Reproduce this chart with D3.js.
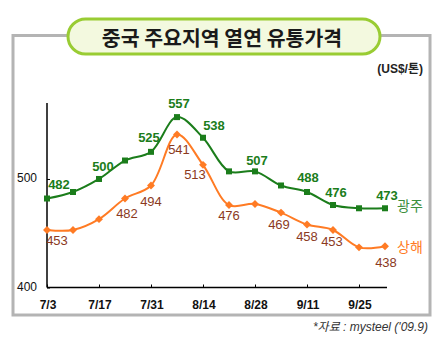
<!DOCTYPE html>
<html><head><meta charset="utf-8">
<script src="https://cdn.jsdelivr.net/npm/d3@7"></script>
<style>body{margin:0;background:#fff;}svg{display:block;}</style>
</head><body>
<svg id="c" width="447" height="339"></svg>
<script>
const title = "중국 주요지역 열연 유통가격";
const unit = "(US$/톤)";
const source = "*자료 : mysteel ('09.9)";
const dates = ["7/3","7/10","7/17","7/24","7/31","8/7","8/14","8/21","8/28","9/4","9/11","9/18","9/25","10/2"];
const tickLabels = ["7/3","7/17","7/31","8/14","8/28","9/11","9/25"];
const yTicks = [400, 500];
const guangzhou = [482, 488, 500, 517, 525, 557, 538, 507, 507, 494, 488, 476, 473, 473];
const shanghai  = [453, 453, 463, 482, 494, 541, 513, 476, 477, 469, 458, 453, 437, 438];
// which points carry a value label (index list)
const gzLabelIdx = [0, 2, 4, 5, 6, 8, 10, 11, 13];
const shLabelIdx = [0, 3, 4, 5, 6, 7, 9, 10, 11, 13];
// label offsets
const gzOff = {0:[12,-13],2:[4,-11],4:[-2,-13],5:[2,-13],6:[11,-11],8:[2,-10],10:[1,-13],11:[3,-11],13:[2,-12]};
const shOff = {0:[10,12],3:[2,16],4:[0,17],5:[2,16],6:[-8,11],7:[0,12],9:[-2,13],10:[0,13],11:[-1,13],13:[1,17]};

const svg = d3.select("#c");
// outer gray box
svg.append("rect").attr("x",13).attr("y",35.5).attr("width",417).attr("height",279.5)
  .attr("fill","#fff").attr("stroke","#b4b4b4").attr("stroke-width",3);

// title pill
svg.append("rect").attr("x",68).attr("y",19).attr("width",312).attr("height",35).attr("rx",17.5)
  .attr("fill","#f3f9df").attr("stroke","#99cc33").attr("stroke-width",3);
svg.append("text").attr("x",222).attr("y",40).attr("text-anchor","middle").attr("dominant-baseline","middle")
  .attr("font-family","'Noto Sans CJK KR', sans-serif").attr("font-weight","bold").attr("font-size",20.5)
  .attr("fill","#1a1a1a").text(title);

svg.append("text").attr("x",423).attr("y",70).attr("text-anchor","end").attr("dominant-baseline","middle")
  .attr("font-family","'Liberation Sans', 'Noto Sans CJK KR', sans-serif").attr("font-weight","bold").attr("font-size",12)
  .attr("fill","#222").text(unit);

const parse = d3.timeParse("%Y/%m/%d");
const toDate = s => { const [m,d] = s.split("/"); return parse(`2009/${m}/${d}`); };
const x = d3.scaleTime().domain([toDate("7/3"), toDate("10/2")]).range([47, 385]);
const y = d3.scaleLinear().domain([400, 570]).range([287.5, 103]);

// y axis
const yAxis = svg.append("g").attr("transform","translate(47,0)")
  .call(d3.axisRight(y).tickValues(yTicks).tickSize(3).tickFormat(""));
yAxis.select(".domain").attr("stroke","#000").attr("stroke-width",1.5).attr("d", `M0,${y(570)}V${y(400)}`);
yAxis.selectAll(".tick line").attr("stroke","#000");
yTicks.forEach(v => {
  svg.append("text").attr("x",37).attr("y",y(v)).attr("text-anchor","end").attr("dominant-baseline","middle")
    .attr("font-family","'Liberation Sans', sans-serif").attr("font-size",12).attr("fill","#111").text(v);
});

// x axis
const xAxis = svg.append("g").attr("transform",`translate(0,${y(400)})`)
  .call(d3.axisTop(x).tickValues(tickLabels.map(toDate)).tickSize(3).tickFormat(""));
xAxis.select(".domain").attr("stroke","#000").attr("stroke-width",1.5).attr("d", `M47,0H387`);
xAxis.selectAll(".tick line").attr("stroke","#000");
tickLabels.forEach(t => {
  svg.append("text").attr("x",x(toDate(t))+1).attr("y",306).attr("text-anchor","middle").attr("dominant-baseline","middle")
    .attr("font-family","'Liberation Sans', sans-serif").attr("font-weight","bold").attr("font-size",12).attr("fill","#111").text(t);
});

const line = d3.line().x((d,i)=>x(toDate(dates[i]))).y(d=>y(d)).curve(d3.curveCatmullRom.alpha(0.5));
const gzColor = "#1b7d1b", shColor = "#ff7b24";

svg.append("path").datum(shanghai).attr("d",line).attr("fill","none").attr("stroke",shColor).attr("stroke-width",2);
svg.append("path").datum(guangzhou).attr("d",line).attr("fill","none").attr("stroke",gzColor).attr("stroke-width",2);

svg.selectAll(".gzm").data(guangzhou).enter().append("rect")
  .attr("x",(d,i)=>x(toDate(dates[i]))-3).attr("y",d=>y(d)-3).attr("width",6).attr("height",6).attr("fill",gzColor);
svg.selectAll(".shm").data(shanghai).enter().append("path")
  .attr("d",d3.symbol(d3.symbolDiamond2,40))
  .attr("transform",(d,i)=>`translate(${x(toDate(dates[i]))},${y(d)})`).attr("fill",shColor);

gzLabelIdx.forEach(i => {
  const [dx,dy] = gzOff[i];
  svg.append("text").attr("x",x(toDate(dates[i]))+dx).attr("y",y(guangzhou[i])+dy)
    .attr("text-anchor","middle").attr("dominant-baseline","middle")
    .attr("font-family","'Liberation Sans', sans-serif").attr("font-weight","bold").attr("font-size",13)
    .attr("fill",gzColor).text(guangzhou[i]);
});
shLabelIdx.forEach(i => {
  const [dx,dy] = shOff[i];
  svg.append("text").attr("x",x(toDate(dates[i]))+dx).attr("y",y(shanghai[i])+dy)
    .attr("text-anchor","middle").attr("dominant-baseline","middle")
    .attr("font-family","'Liberation Sans', sans-serif").attr("font-size",13)
    .attr("fill","#8b3a1e").text(shanghai[i]);
});

svg.append("text").attr("x",397).attr("y",207).attr("dominant-baseline","middle")
  .attr("font-family","'Noto Sans CJK KR', sans-serif").attr("font-size",14).attr("fill","#3d8f3d").text("광주");
svg.append("text").attr("x",397).attr("y",248).attr("dominant-baseline","middle")
  .attr("font-family","'Noto Sans CJK KR', sans-serif").attr("font-size",14).attr("fill","#ff7b24").text("상해");

svg.append("text").attr("x",428).attr("y",328).attr("text-anchor","end").attr("dominant-baseline","middle")
  .attr("font-family","'Liberation Sans', 'Noto Sans CJK KR', sans-serif").attr("font-style","italic").attr("font-size",12)
  .attr("fill","#333").text(source);
</script>
</body></html>
